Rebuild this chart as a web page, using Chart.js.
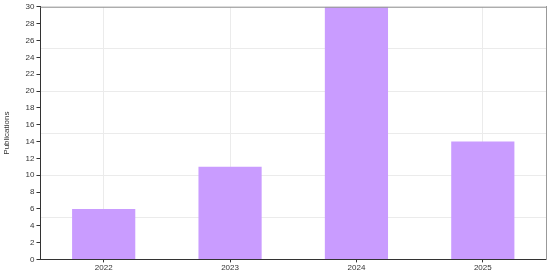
<!DOCTYPE html>
<html>
<head>
<meta charset="utf-8">
<script src="https://cdn.jsdelivr.net/npm/chart.js@4"></script>
<style>
  html, body { margin: 0; padding: 0; background: #fff; }
  #wrap { width: 550px; height: 275px; }
</style>
</head>
<body>
<div id="wrap"><canvas id="chart"></canvas></div>
<script>
const years = ['2022', '2023', '2024', '2025'];
const publications = [6, 11, 30, 14];
const yMax = 30;

Chart.defaults.font.family = '"Liberation Sans", Arial, sans-serif';
Chart.defaults.color = '#333';

// top border of the plot area
const frameTop = {
  id: 'frameTop',
  afterDraw(chart) {
    const { ctx, chartArea } = chart;
    ctx.save();
    ctx.strokeStyle = '#999';
    ctx.lineWidth = 1;
    ctx.beginPath();
    ctx.moveTo(chartArea.left, chartArea.top + 0.5);
    ctx.lineTo(chartArea.right, chartArea.top + 0.5);
    ctx.stroke();
    ctx.restore();
  }
};

new Chart(document.getElementById('chart'), {
  type: 'bar',
  data: {
    labels: years,
    datasets: [{
      data: publications,
      backgroundColor: '#c99cff',
      barPercentage: 0.5,
      categoryPercentage: 1
    }]
  },
  options: {
    responsive: true,
    maintainAspectRatio: false,
    animation: false,
    layout: { padding: { top: 3, right: 4, left: 2, bottom: 1 } },
    plugins: { legend: { display: false }, tooltip: { enabled: false } },
    scales: {
      x: {
        offset: true,
        grid: { offset: false, color: '#ebebeb', tickColor: '#333', tickLength: 3 },
        border: { color: '#333' },
        ticks: { font: { size: 8 }, padding: 1 }
      },
      y: {
        min: 0, max: yMax,
        ticks: { stepSize: 2, font: { size: 8 }, padding: 2 },
        grid: { drawOnChartArea: false, tickColor: '#333', tickLength: 4 },
        border: { color: '#333' },
        title: { display: true, text: 'Publications', font: { size: 8 }, padding: { top: 0, bottom: 12 } }
      },
      y2: {
        position: 'right',
        min: 0, max: yMax,
        ticks: { display: false, stepSize: 5 },
        grid: { drawTicks: false, color: '#ebebeb' },
        border: { color: '#999' }
      }
    }
  },
  plugins: [frameTop]
});
</script>
</body>
</html>
